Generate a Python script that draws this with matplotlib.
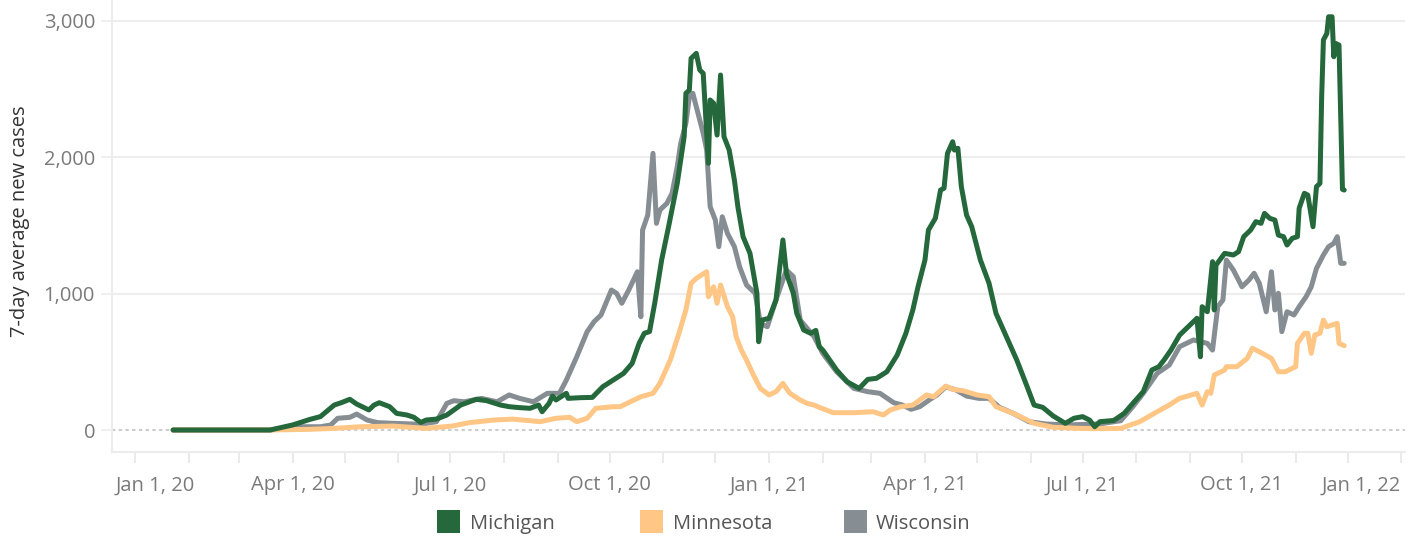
import matplotlib
matplotlib.use('Agg')
import matplotlib.pyplot as plt
import matplotlib.transforms as mtransforms
from matplotlib.patches import Rectangle
import numpy as np
import pandas as pd

plt.rcParams['font.family'] = ['Open Sans', 'DejaVu Sans']

# ---------------- data (days since Jan 1, 2020 ; 7-day avg new cases) ----------------
mi_day = [22, 78, 91, 101, 107, 115, 119, 124, 128, 135,
          138, 141, 147, 151, 157, 161, 165, 168, 174, 180,
          188, 197, 203, 211, 216, 222, 228, 233, 235, 239,
          241, 243, 249, 250, 257, 264, 270, 276, 282, 287,
          291, 294, 297, 300, 304, 308, 313, 317, 318, 320,
          321, 324, 326, 328, 331, 332, 334, 336, 338, 340,
          343, 346, 348, 351, 355, 359, 360, 362, 366, 370,
          374, 376, 380, 382, 386, 390, 393, 395, 397, 405,
          411, 418, 423, 428, 434, 440, 445, 449, 452, 456,
          458, 462, 465, 467, 469, 472, 473, 475, 477, 480,
          483, 488, 493, 497, 503, 509, 515, 519, 524, 530,
          537, 542, 547, 551, 554, 557, 565, 571, 576, 582,
          587, 591, 594, 598, 603, 608, 613, 615, 616, 619,
          622, 623, 624, 629, 634, 637, 640, 644, 647, 650,
          652, 655, 658, 660, 663, 665, 668, 671, 672, 675,
          677, 680, 682, 684, 685, 686, 688, 689, 691, 692,
          693, 695, 697, 698]
mi_val = [0, 0, 37, 78, 98, 183, 200, 225, 190, 147,
          183, 200, 171, 122, 110, 93, 55, 73, 80, 110,
          183, 225, 215, 183, 171, 164, 159, 183, 134, 195,
          249, 220, 269, 232, 237, 239, 317, 366, 415, 489,
          635, 709, 721, 929, 1246, 1490, 1808, 2150, 2468, 2492,
          2724, 2761, 2639, 2614, 1955, 2419, 2395, 2162, 2602, 2150,
          2052, 1832, 1637, 1417, 1295, 1002, 647, 806, 819, 953,
          1393, 1149, 1002, 855, 733, 709, 730, 611, 586, 440,
          354, 305, 371, 379, 427, 550, 709, 880, 1050, 1246,
          1466, 1552, 1759, 1772, 2028, 2113, 2052, 2065, 1784, 1576,
          1490, 1246, 1075, 855, 684, 513, 317, 183, 166, 103,
          49, 86, 98, 73, 24, 61, 70, 122, 195, 281,
          440, 464, 513, 586, 696, 757, 819, 537, 904, 867,
          1234, 880, 1209, 1295, 1283, 1307, 1417, 1466, 1527, 1515,
          1588, 1552, 1539, 1429, 1417, 1356, 1405, 1417, 1625, 1735,
          1722, 1490, 1784, 1808, 2443, 2859, 2907, 3029, 3029, 2736,
          2834, 2822, 1764, 1759]

wi_day = [22, 78, 91, 107, 113, 117, 124, 128, 134, 140,
          149, 165, 174, 180, 184, 190, 200, 209, 216, 222,
          230, 238, 245, 249, 255, 261, 265, 269, 275, 278,
          281, 285, 290, 292, 293, 296, 299, 301, 303, 307,
          310, 313, 315, 318, 320, 322, 325, 328, 330, 332,
          335, 337, 339, 342, 346, 349, 353, 358, 361, 365,
          370, 376, 380, 384, 392, 397, 405, 415, 423, 430,
          438, 443, 448, 453, 459, 463, 468, 474, 480, 487,
          493, 499, 507, 516, 526, 538, 557, 569, 576, 582,
          590, 597, 603, 611, 619, 622, 625, 628, 630, 634,
          639, 643, 646, 649, 653, 656, 658, 660, 662, 665,
          669, 672, 676, 679, 682, 686, 689, 692, 694, 696,
          698]
wi_val = [0, 0, 24, 24, 37, 86, 93, 117, 73, 54,
          49, 42, 61, 195, 215, 207, 232, 207, 257, 232,
          207, 269, 269, 366, 537, 721, 794, 843, 1026, 1002,
          929, 1026, 1160, 830, 1466, 1576, 2028, 1515, 1613, 1661,
          1735, 1930, 2101, 2248, 2443, 2468, 2321, 2175, 2052, 1637,
          1539, 1344, 1563, 1441, 1344, 1197, 1063, 1002, 782, 757,
          953, 1173, 1124, 806, 684, 562, 427, 305, 281, 269,
          200, 183, 152, 171, 225, 257, 317, 293, 249, 232,
          232, 166, 122, 61, 44, 37, 45, 68, 171, 269,
          415, 476, 611, 660, 635, 586, 904, 953, 1246, 1173,
          1050, 1099, 1149, 1075, 867, 1160, 880, 1002, 721, 867,
          843, 904, 977, 1050, 1185, 1283, 1344, 1368, 1417, 1222,
          1222]

mn_day = [22, 78, 101, 115, 130, 149, 168, 183, 193, 207,
          218, 234, 243, 251, 255, 261, 266, 276, 280, 284,
          292, 299, 303, 309, 314, 318, 321, 324, 327, 330,
          331, 334, 336, 338, 342, 345, 347, 350, 353, 357,
          361, 366, 370, 374, 378, 384, 388, 392, 395, 403,
          415, 426, 432, 436, 442, 449, 457, 461, 468, 472,
          478, 486, 493, 497, 507, 519, 530, 545, 557, 569,
          580, 590, 597, 603, 613, 616, 619, 621, 623, 629,
          630, 636, 642, 645, 649, 656, 660, 664, 670, 671,
          675, 677, 679, 681, 684, 686, 688, 691, 694, 695,
          698]
mn_val = [0, 0, 5, 12, 24, 29, 12, 29, 54, 73,
          80, 61, 86, 93, 61, 86, 159, 171, 171, 195,
          244, 269, 342, 513, 709, 880, 1075, 1112, 1136, 1160,
          977, 1050, 929, 1063, 904, 830, 684, 586, 513, 403,
          305, 257, 281, 342, 269, 220, 195, 183, 166, 127,
          127, 134, 110, 147, 171, 183, 257, 244, 322, 298,
          288, 257, 244, 171, 122, 49, 20, 12, 10, 12,
          61, 134, 183, 232, 269, 183, 281, 269, 403, 440,
          464, 464, 525, 599, 574, 525, 427, 427, 464, 635,
          709, 709, 562, 696, 709, 806, 757, 770, 782, 635,
          618]

state_names = ['Michigan', 'Minnesota', 'Wisconsin']
state_colors = ['#24683c', '#ffc685', '#868d93']

y_ticks = [0, 1000, 2000, 3000]
y_ticklabels = ['0', '1,000', '2,000', '3,000']
x_tick_dates = ['2020-01-01', '2020-04-01', '2020-07-01', '2020-10-01', '2021-01-01',
                '2021-04-01', '2021-07-01', '2021-10-01', '2022-01-01']
x_ticklabels = ['Jan 1, 20', 'Apr 1, 20', 'Jul 1, 20', 'Oct 1, 20', 'Jan 1, 21',
                'Apr 1, 21', 'Jul 1, 21', 'Oct 1, 21', 'Jan 1, 22']
y_title = '7-day average new cases'

# ---------------- figure ----------------
W, H = 1421, 537
fig = plt.figure(figsize=(W / 100, H / 100), dpi=100)
L, R, T, B = 111.7, 1405.0, 0.0, 451.7
ax = fig.add_axes([L / W, (H - B) / H, (R - L) / W, (B - T) / H])

base = pd.Timestamp('2020-01-01')


def to_dates(days):
    return base + pd.to_timedelta(np.asarray(days, dtype=float), unit='D')


grid_col = '#eeeeee'
for v in y_ticks[1:]:
    ax.axhline(v, color=grid_col, lw=1.6, zorder=0)
ax.axhline(y_ticks[0], color='#bdbdbd', lw=1.1, ls=(0, (2.2, 2.2)), zorder=1)

series = [
    (wi_day, wi_val, state_colors[2], 2),
    (mn_day, mn_val, state_colors[1], 3),
    (mi_day, mi_val, state_colors[0], 4),
]
for d, v, c, z in series:
    ax.plot(to_dates(d), v, color=c, lw=3.6, solid_joinstyle='round',
            solid_capstyle='round', zorder=z)

ax.set_xlim(base + pd.Timedelta(days=-13.45), base + pd.Timedelta(days=733.1))
ax.set_ylim(-159, 3152)

# y axis
ax.set_yticks(y_ticks)
ax.set_yticklabels(y_ticklabels)
ax.tick_params(axis='y', length=8, width=1.2, color=grid_col, pad=4,
               labelcolor='#7a7a7a', labelsize=14.5)

# x axis
ax.set_xticks(pd.to_datetime(x_tick_dates))
ax.set_xticklabels(x_ticklabels)
months = pd.date_range('2020-01-01', '2022-01-01', freq='MS')
ax.set_xticks(months, minor=True)
ax.tick_params(axis='x', which='both', length=8, width=1.2, color='#e6e6e6',
               direction='out')
ax.tick_params(axis='x', which='major', pad=9, labelcolor='#7a7a7a', labelsize=14.5)

xl = ax.get_xticklabels()
xl[0].set_horizontalalignment('left')
xl[0].set_transform(xl[0].get_transform() +
                    mtransforms.ScaledTranslation(-0.19, 0, fig.dpi_scale_trans))
xl[-1].set_horizontalalignment('right')

for s in ['top', 'right']:
    ax.spines[s].set_visible(False)
for s in ['left', 'bottom']:
    ax.spines[s].set_color('#ececec')
    ax.spines[s].set_linewidth(1.5)

fig.text(20 / W, 1 - 221 / H, y_title, rotation=90, ha='center', va='center',
         color='#333333', fontsize=14.5)

# legend
sq_x = [437.4, 640.0, 844.3]
tx_x = [470.0, 673.4, 875.8]
cy = 521.5
sq = 23
for name, col, sx, tx in zip(state_names, state_colors, sq_x, tx_x):
    fig.add_artist(Rectangle((sx / W, 1 - (cy + sq / 2) / H), sq / W, sq / H,
                             transform=fig.transFigure, color=col, lw=0))
    fig.text(tx / W, 1 - cy / H, name, ha='left', va='center_baseline',
             color='#555555', fontsize=14.5)

fig.savefig('out.png', dpi=100)
